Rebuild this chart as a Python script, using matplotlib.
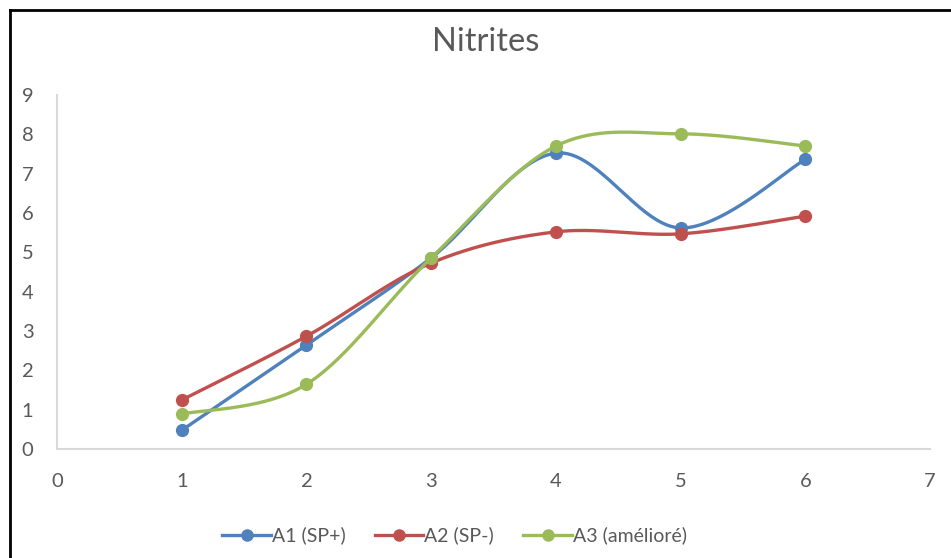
import numpy as np
import matplotlib
matplotlib.use("Agg")
import matplotlib.pyplot as plt
from matplotlib.lines import Line2D

plt.rcParams['font.family'] = ['Lato', 'DejaVu Sans']

jours = [1, 2, 3, 4, 5, 6]
a1 = [0.48, 2.65, 4.86, 7.52, 5.62, 7.36]
a2 = [1.25, 2.87, 4.73, 5.52, 5.47, 5.92]
a3 = [0.89, 1.65, 4.86, 7.70, 8.01, 7.70]
noms = ['A1 (SP+)', 'A2 (SP-)', 'A3 (amélioré)']
couleurs = ['#4F81BD', '#C0504D', '#9BBB59']


def lisser(x, y, n=40):
    # courbe de Bezier type Catmull-Rom passant par chaque point
    x = np.asarray(x, float)
    y = np.asarray(y, float)
    px = np.concatenate([[x[0]], x, [x[-1]]])
    py = np.concatenate([[y[0]], y, [y[-1]]])
    xs, ys = [], []
    t = np.linspace(0, 1, n)
    for i in range(1, len(px) - 2):
        p0 = np.array([px[i], py[i]])
        p3 = np.array([px[i + 1], py[i + 1]])
        c1 = p0 + (p3 - np.array([px[i - 1], py[i - 1]])) / 6
        c2 = p3 - (np.array([px[i + 2], py[i + 2]]) - p0) / 6
        b = ((1 - t) ** 3)[:, None] * p0 + (3 * (1 - t) ** 2 * t)[:, None] * c1 \
            + (3 * (1 - t) * t ** 2)[:, None] * c2 + (t ** 3)[:, None] * p3
        xs.extend(b[:, 0])
        ys.extend(b[:, 1])
    return xs, ys


fig = plt.figure(figsize=(9.51, 5.58), dpi=100)
ax = fig.add_axes([0.06, 0.195, 0.918, 0.635])

for serie, nom, c in zip([a1, a2, a3], noms, couleurs):
    sx, sy = lisser(jours, serie)
    ax.plot(sx, sy, color=c, lw=2.4, solid_capstyle='round')
    ax.plot(jours, serie, 'o', color=c, ms=8.5)

ax.set_xlim(0, 7)
ax.set_ylim(0, 9)
ax.set_xticks(range(0, 8))
ax.set_yticks(range(0, 10))
for s in ['top', 'right']:
    ax.spines[s].set_visible(False)
for s in ['left', 'bottom']:
    ax.spines[s].set_color('#d9d9d9')
    ax.spines[s].set_linewidth(1.5)
ax.tick_params(length=0, labelsize=14.5, colors='#595959')
ax.tick_params(axis='y', pad=17)
ax.tick_params(axis='x', pad=17)

fig.text(0.511, 0.925, 'Nitrites', ha='center', va='center', fontsize=23.5, color='#595959')

handles = [Line2D([], [], color=c, lw=2.4, marker='o', ms=8) for c in couleurs]
fig.legend(handles, noms, loc='center', bbox_to_anchor=(0.478, 0.04), ncol=3,
           frameon=False, fontsize=14, labelcolor='#595959', handlelength=2.5,
           handletextpad=0.05, columnspacing=1.5)

# cadre noir en haut et a gauche
fig.add_artist(Line2D([0.0105, 0.0105], [0, 0.982], color='black', lw=2, transform=fig.transFigure))
fig.add_artist(Line2D([0.0105, 1], [0.982, 0.982], color='black', lw=2, transform=fig.transFigure))

fig.savefig('out.png', dpi=100)
